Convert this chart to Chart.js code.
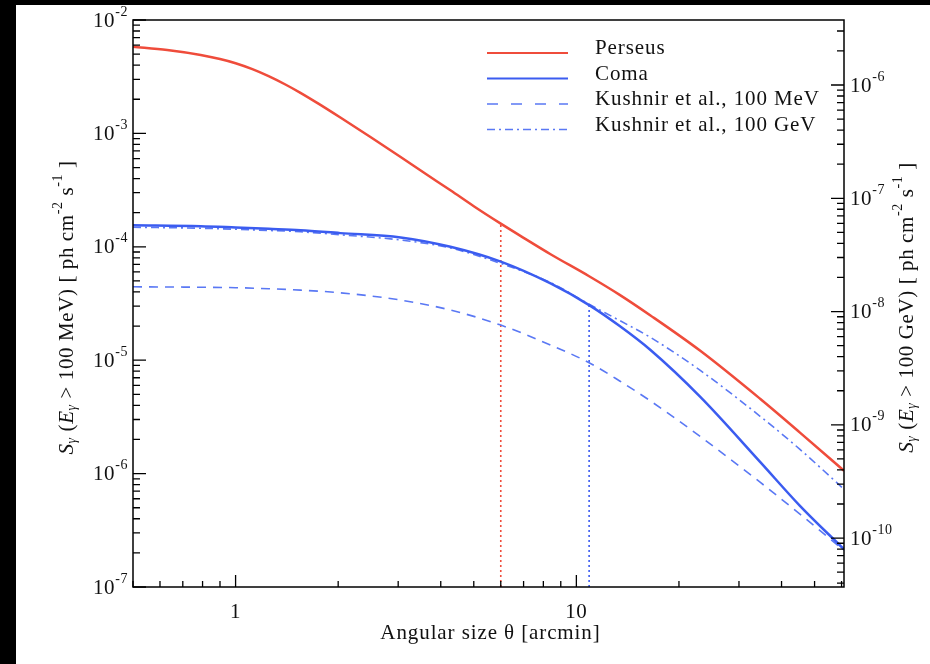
<!DOCTYPE html>
<html>
<head>
<meta charset="utf-8">
<script src="https://cdn.jsdelivr.net/npm/chart.js@4.4.1/dist/chart.umd.min.js"></script>
<style>
html, body { margin: 0; padding: 0; background: #000; }
#wrap { position: absolute; left: 16px; top: 5px; width: 914px; height: 659px; background: #fff; }
</style>
</head>
<body>
<div id="wrap"><canvas id="fluxChart"></canvas></div>
<script>
// angular size theta [arcmin]
const theta = [0.5, 0.79, 1, 1.25, 1.55, 2.03, 3.05, 4.27, 6, 8.4, 10.9, 13.4, 16.5, 23.1, 34.6, 45.3, 61];
const thetaPerseus = [0.5, 0.63, 0.79, 0.9, 1, 1.12, 1.25, 1.4, 1.55, 1.75, 2.03, 2.5, 3.05, 3.6, 4.27, 5, 6, 7, 8.4, 10.9, 13.4, 16.5, 23.1, 34.6, 45.3, 61];
// S(E > 100 MeV) [ph cm^-2 s^-1], left axis
const perseus = [5.8e-3, 5.43e-3, 4.91e-3, 4.53e-3, 4.16e-3, 3.69e-3, 3.2e-3, 2.7e-3, 2.28e-3, 1.83e-3, 1.38e-3, 9.2e-4, 6.2e-4, 4.43e-4, 3.15e-4, 2.28e-4, 1.6e-4, 1.2e-4, 8.6e-5, 5.5e-5, 3.77e-5, 2.48e-5, 1.21e-5, 4.57e-6, 2.3e-6, 1.06e-6];
const coma = [1.55e-4, 1.52e-4, 1.48e-4, 1.44e-4, 1.40e-4, 1.32e-4, 1.21e-4, 1.0e-4, 7.4e-5, 4.75e-5, 3.06e-5, 2.0e-5, 1.23e-5, 4.75e-6, 1.27e-6, 5.2e-7, 2.15e-7];
const kushnirMeV = [4.44e-5, 4.4e-5, 4.36e-5, 4.27e-5, 4.15e-5, 3.93e-5, 3.39e-5, 2.77e-5, 2.04e-5, 1.36e-5, 9.5e-6, 6.56e-6, 4.37e-6, 2.12e-6, 8.4e-7, 4.39e-7, 2.1e-7];
// S(E > 100 GeV), right axis
const kushnirGeV = [5.55e-8, 5.44e-8, 5.33e-8, 5.2e-8, 5.06e-8, 4.76e-8, 4.28e-8, 3.64e-8, 2.66e-8, 1.8e-8, 1.16e-8, 8.33e-9, 5.91e-9, 3.02e-9, 1.19e-9, 6.07e-10, 2.7e-10];

// vertical dotted markers (Perseus, Coma)
const markTheta = [6, 10.9];
const markTop = [1.6e-4, 3.06e-5];

// axis ranges and tick values
const xMin = 0.5, xMax = 61;
const yMin = 1e-7, yMax = 1e-2;
const y2Min = 3.7e-11, y2Max = 3.75e-6;
const xMajor = [1, 10];
const xLabels = ['1', '10'];
const yExp = [-7, -6, -5, -4, -3, -2];
const y2Exp = [-10, -9, -8, -7, -6];

const legendNames = ['Perseus', 'Coma', 'Kushnir et al., 100 MeV', 'Kushnir et al., 100 GeV'];

const RED = '#ef4c3b';
const BLUE = '#3b5cf0';
const LBLUE = '#5a78f4';
const SERIF = '"Liberation Serif", "DejaVu Serif", serif';

function pts(xs, ys) {
    return xs.map((t, i) => ({ x: t, y: ys[i] }));
}

function drawRuns(ctx, runs, x, y, align, spacing) {
    ctx.letterSpacing = (spacing || 0) + 'px';
    let total = 0;
    runs.forEach(r => { ctx.font = r.font; total += ctx.measureText(r.t).width; });
    let cx = x;
    if (align === 'center') cx = x - total / 2;
    if (align === 'right') cx = x - total;
    runs.forEach(r => {
        ctx.font = r.font;
        ctx.fillText(r.t, cx, y + (r.dy || 0));
        cx += ctx.measureText(r.t).width;
    });
    ctx.letterSpacing = '0px';
}

function tenPow(e) {
    return [
        { t: '10', font: '21px ' + SERIF },
        { t: String(e), font: '14px ' + SERIF, dy: -9 }
    ];
}

function axisTitle(unit) {
    const f = '21px ' + SERIF, fi = 'italic 21px ' + SERIF, fs = '14px ' + SERIF, fsi = 'italic 14px ' + SERIF;
    return [
        { t: 'S', font: fi }, { t: 'γ', font: fsi, dy: 5 },
        { t: ' (', font: f }, { t: 'E', font: fi }, { t: 'γ', font: fsi, dy: 5 },
        { t: ' > 100 ' + unit + ') [ ph cm', font: f }, { t: '-2', font: fs, dy: -9 },
        { t: ' s', font: f }, { t: '-1', font: fs, dy: -9 }, { t: ' ]', font: f }
    ];
}

const decor = {
    id: 'decor',
    afterDraw(chart) {
        const ctx = chart.ctx;
        const a = chart.chartArea;
        const sx = chart.scales.x, sy = chart.scales.y, sy2 = chart.scales.y2;
        ctx.save();
        ctx.strokeStyle = '#000';
        ctx.fillStyle = '#111';
        ctx.lineWidth = 1.5;
        ctx.strokeRect(a.left, a.top, a.right - a.left, a.bottom - a.top);

        ctx.lineWidth = 1.3;
        ctx.beginPath();
        // x ticks along bottom
        for (let d = -1; d <= 1; d++) {
            for (let m = 1; m <= 9; m++) {
                const v = m * Math.pow(10, d);
                if (v < xMin || v > xMax) continue;
                const px = sx.getPixelForValue(v);
                const len = m === 1 ? 12 : 6;
                ctx.moveTo(px, a.bottom); ctx.lineTo(px, a.bottom - len);
            }
        }
        // left ticks
        for (let e = -7; e <= -2; e++) {
            for (let m = 1; m <= 9; m++) {
                const v = m * Math.pow(10, e);
                if (v < yMin || v > yMax) continue;
                const py = sy.getPixelForValue(v);
                const len = m === 1 ? 13 : 7;
                ctx.moveTo(a.left, py); ctx.lineTo(a.left + len, py);
            }
        }
        // right ticks
        for (let e = -11; e <= -6; e++) {
            for (let m = 1; m <= 9; m++) {
                const v = m * Math.pow(10, e);
                if (v < y2Min || v > y2Max) continue;
                const py = sy2.getPixelForValue(v);
                const len = m === 1 ? 13 : 7;
                ctx.moveTo(a.right, py); ctx.lineTo(a.right - len, py);
            }
        }
        ctx.stroke();

        // tick labels
        ctx.textBaseline = 'middle';
        yExp.forEach(e => drawRuns(ctx, tenPow(e), a.left - 5, sy.getPixelForValue(Math.pow(10, e)) + 1, 'right', 0.6));
        y2Exp.forEach(e => drawRuns(ctx, tenPow(e), a.right + 6, sy2.getPixelForValue(Math.pow(10, e)) + 1, 'left', 0.6));
        xMajor.forEach((v, i) => drawRuns(ctx, [{ t: xLabels[i], font: '21px ' + SERIF }], sx.getPixelForValue(v), a.bottom + 25, 'center', 0.6));

        // axis titles
        drawRuns(ctx, [{ t: 'Angular size θ [arcmin]', font: '21px ' + SERIF }], (a.left + a.right) / 2 + 2, a.bottom + 46, 'center', 0.9);
        const cy = (a.top + a.bottom) / 2 + 4;
        ctx.save();
        ctx.translate(51, cy);
        ctx.rotate(-Math.PI / 2);
        drawRuns(ctx, axisTitle('MeV'), 0, 0, 'center', 0.6);
        ctx.restore();
        ctx.save();
        ctx.translate(891, cy);
        ctx.rotate(-Math.PI / 2);
        drawRuns(ctx, axisTitle('GeV'), 0, 0, 'center', 0.6);
        ctx.restore();

        // legend
        const styles = [
            { c: RED, w: 2, d: [] },
            { c: BLUE, w: 2, d: [] },
            { c: LBLUE, w: 1.5, d: [11, 13] },
            { c: LBLUE, w: 1.5, d: [8, 4, 2, 4] }
        ];
        ctx.textBaseline = 'alphabetic';
        legendNames.forEach((name, i) => {
            const ly = a.top + 33 + i * 25.5;
            ctx.beginPath();
            ctx.strokeStyle = styles[i].c;
            ctx.lineWidth = styles[i].w;
            ctx.setLineDash(styles[i].d);
            ctx.moveTo(471, ly); ctx.lineTo(552, ly);
            ctx.stroke();
            ctx.setLineDash([]);
            ctx.fillStyle = '#111';
            drawRuns(ctx, [{ t: name, font: '21px ' + SERIF }], 579, ly + 1, 'left', 0.9);
        });
        ctx.restore();
    }
};

const base = { pointRadius: 0, fill: false, cubicInterpolationMode: 'monotone' };

new Chart(document.getElementById('fluxChart'), {
    type: 'line',
    data: {
        datasets: [
            Object.assign({ label: 'Perseus', data: pts(thetaPerseus, perseus), borderColor: RED, borderWidth: 2.5, yAxisID: 'y' }, base),
            Object.assign({ label: 'Coma', data: pts(theta, coma), borderColor: BLUE, borderWidth: 2.5, yAxisID: 'y' }, base),
            Object.assign({ label: 'Kushnir et al., 100 MeV', data: pts(theta, kushnirMeV), borderColor: LBLUE, borderWidth: 1.6, borderDash: [9, 7], yAxisID: 'y' }, base),
            Object.assign({ label: 'Kushnir et al., 100 GeV', data: pts(theta, kushnirGeV), borderColor: LBLUE, borderWidth: 1.6, borderDash: [8, 4, 2, 4], yAxisID: 'y2' }, base),
            { label: 'Perseus mark', data: [{ x: markTheta[0], y: yMin }, { x: markTheta[0], y: markTop[0] }], borderColor: RED, borderWidth: 1.6, borderDash: [2, 3], pointRadius: 0, yAxisID: 'y' },
            { label: 'Coma mark', data: [{ x: markTheta[1], y: yMin }, { x: markTheta[1], y: markTop[1] }], borderColor: BLUE, borderWidth: 1.6, borderDash: [2, 3], pointRadius: 0, yAxisID: 'y' }
        ]
    },
    options: {
        responsive: true,
        maintainAspectRatio: false,
        animation: false,
        layout: { padding: { left: 117, top: 15, right: 86, bottom: 77 } },
        plugins: { legend: { display: false }, tooltip: { enabled: false } },
        scales: {
            x: { type: 'logarithmic', min: xMin, max: xMax, display: false },
            y: { type: 'logarithmic', min: yMin, max: yMax, display: false, position: 'left' },
            y2: { type: 'logarithmic', min: y2Min, max: y2Max, display: false, position: 'right' }
        }
    },
    plugins: [decor]
});
</script>
</body>
</html>
